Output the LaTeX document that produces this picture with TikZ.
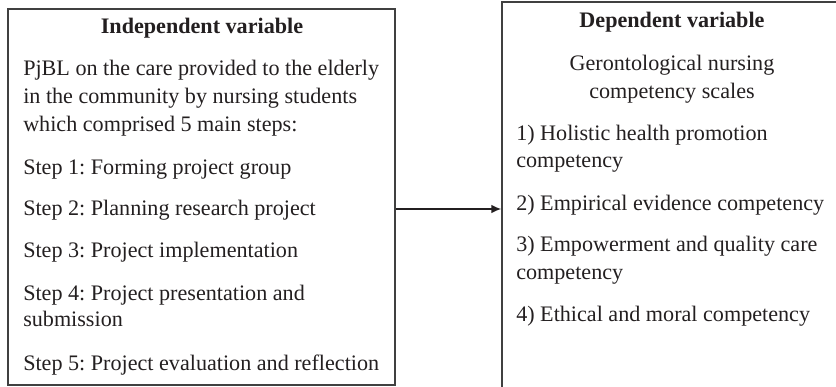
\documentclass[tikz,border=0pt]{standalone}
\usepackage{fontspec}
\setmainfont{Liberation Serif}
\usetikzlibrary{arrows.meta}
\frenchspacing
\definecolor{boxgray}{HTML}{404040}
\definecolor{ink}{HTML}{231F20}
\newcommand{\boxfont}{\fontsize{16.6}{20}\selectfont}
\tikzset{
  box/.style={draw=boxgray, line width=1.1pt, inner sep=0pt},
  line/.style={anchor=west, inner sep=0pt, text height=0.7em, text depth=0.22em, text=ink, font=\boxfont},
  mid/.style={line, anchor=center},
  head/.style={mid, font=\boxfont\bfseries}
}
\begin{document}
\begin{tikzpicture}[x=0.75pt, y=-0.75pt]
\path[use as bounding box, clip] (0,0) rectangle (836,386);
% the two boxes
\node[box, minimum width=290.25pt, minimum height=282pt] (indep) at (201.5,197) {};
\node[box, minimum width=261pt, minimum height=298.5pt] (dep) at (676,201) {};
\node[head] (T1) at (202,30) {Independent variable};
\node[head] (T2) at (672,24) {Dependent variable};
% left box text
\foreach \i/\y/\t in {1/72/PjBL on the care provided to the elderly,
                      2/100/in the community by nursing students,
                      3/128/which comprised 5 main steps:,
                      4/171/Step 1: Forming project group,
                      5/212/Step 2: Planning research project,
                      6/254/Step 3: Project implementation,
                      7/297/Step 4: Project presentation and,
                      8/323/submission,
                      9/367/Step 5: Project evaluation and reflection} {
  \node[line] (L\i) at (23,\y) {\t};
}
% right box text
\node[mid] (M1) at (672,67) {Gerontological nursing};
\node[mid] (M2) at (672,95) {competency scales};
\foreach \i/\y/\t in {1/137/1) Holistic health promotion,
                      2/164/competency,
                      3/207/2) Empirical evidence competency,
                      4/248/3) Empowerment and quality care,
                      5/276/competency,
                      6/318/4) Ethical and moral competency} {
  \node[line] (R\i) at (516,\y) {\t};
}
\coordinate (arr) at (450,209);
\draw[-{Latex[length=7.5pt,width=6.5pt]}, line width=1.1pt, draw=ink] (indep.east |- arr) -- (dep.west |- arr);
\end{tikzpicture}
\end{document}
